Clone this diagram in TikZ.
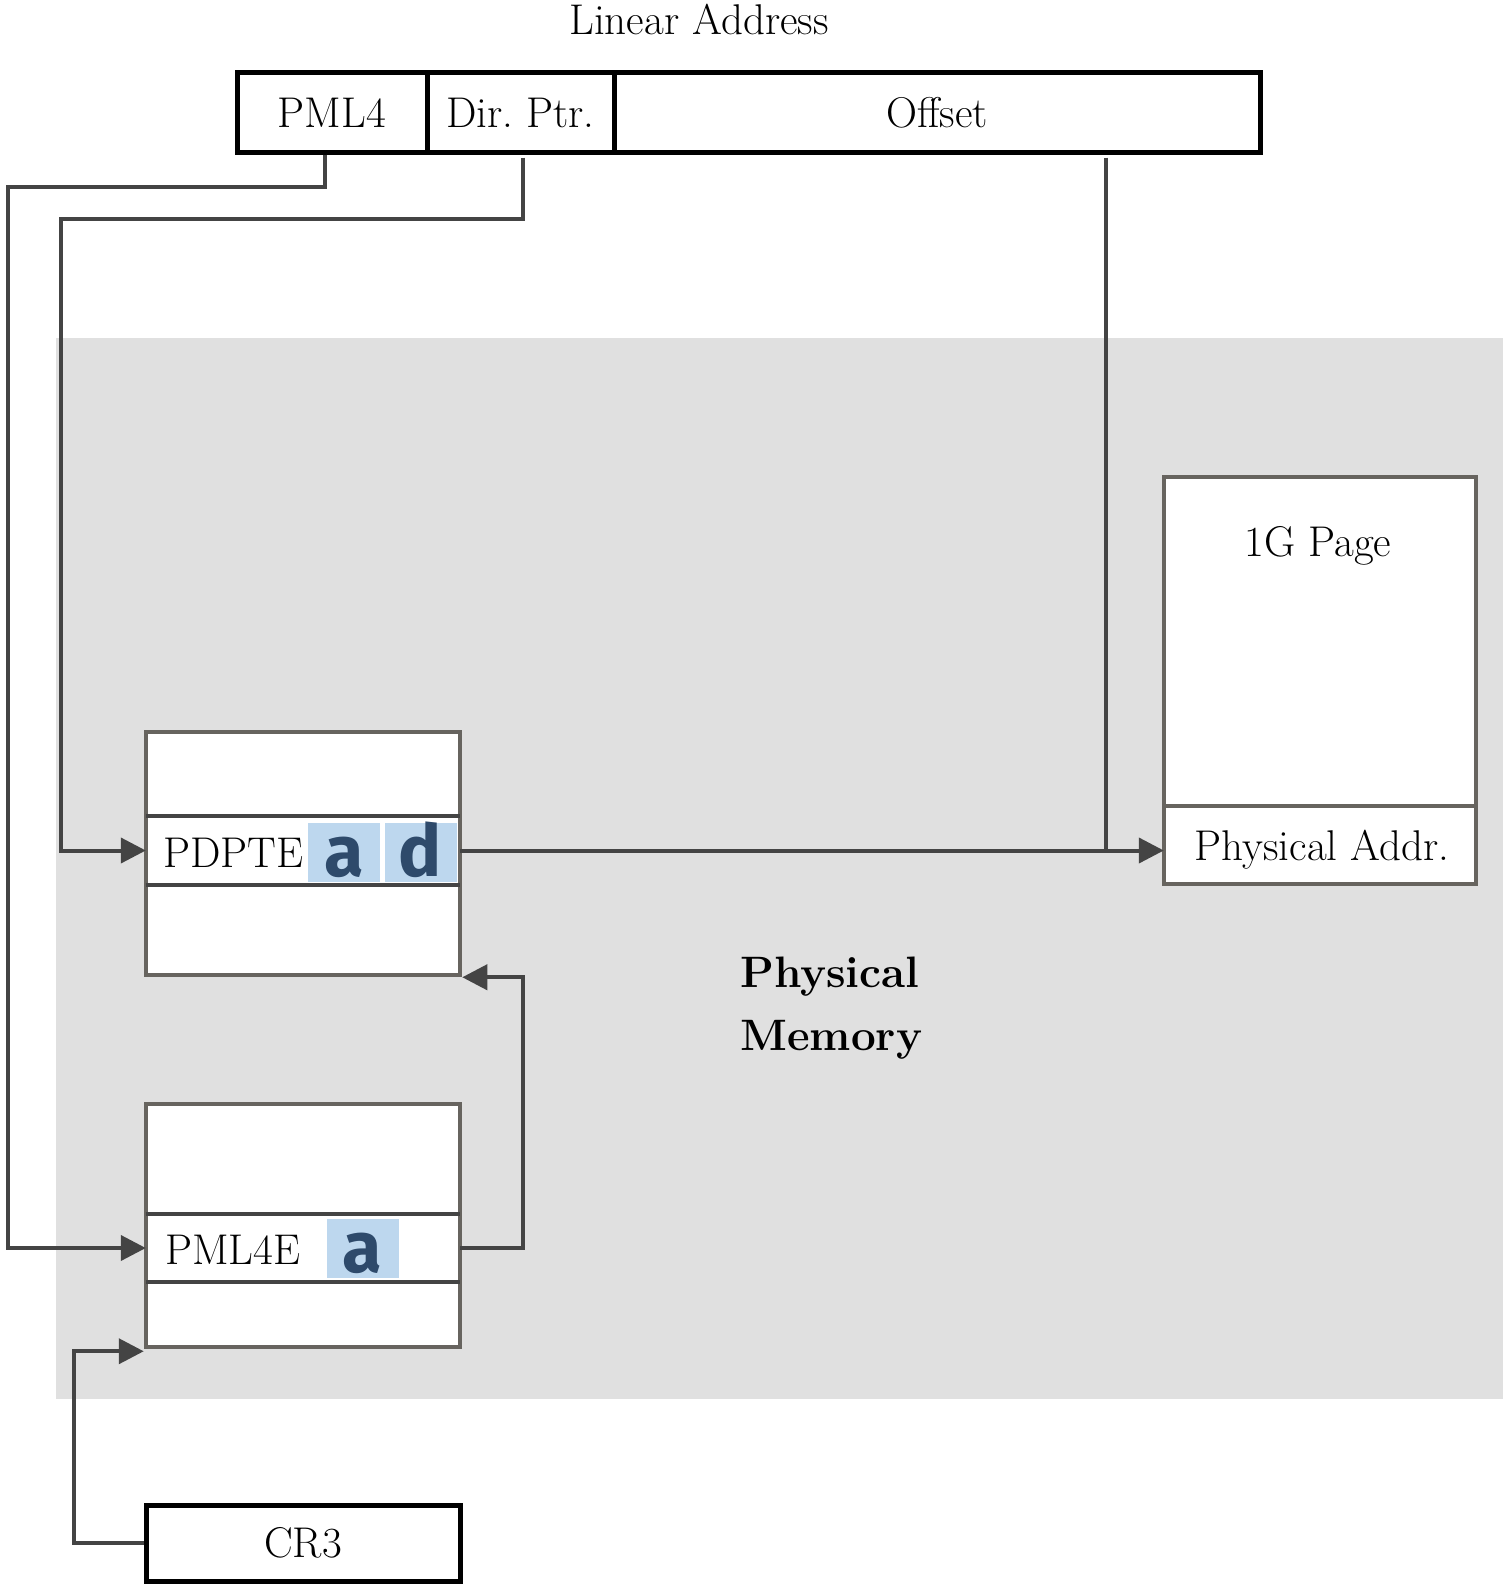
\documentclass[tikz,border=0pt]{standalone}
\usepackage{fontspec}
\newfontfamily\badgefont{Fira Sans}
\usetikzlibrary{arrows.meta}
\definecolor{memgray}{HTML}{E0E0E0}
\definecolor{tblgray}{HTML}{67645F}
\definecolor{conngray}{HTML}{444444}
\definecolor{badgefill}{HTML}{BDD7EE}
\definecolor{badgetext}{HTML}{2E4A6B}
\begin{document}
\begin{tikzpicture}[x=1pt,y=-1pt,
  lbl/.style={font=\fontsize{43}{50}\selectfont, inner sep=0pt},
  field/.style={draw=black, line width=5pt, fill=white, inner sep=0pt, font=\fontsize{43}{50}\selectfont},
  tablebox/.style={draw=tblgray, line width=4.5pt, fill=white, inner sep=0pt},
  rowbox/.style={inner sep=0pt, minimum width=314pt},
  rowline/.style={draw=conngray, line width=4pt},
  conn/.style={draw=conngray, line width=4pt},
  arr/.style={conn, -{Triangle[length=25pt,width=25pt]}},
  badge/.style={fill=badgefill, text=badgetext, font=\badgefont\bfseries\fontsize{72}{74}\selectfont,
    minimum width=72pt, minimum height=59pt, inner sep=0pt, text height=47pt, text depth=0pt}
]
\useasboundingbox (0,0) rectangle (1503,1584);

% physical memory background
\node[fill=memgray, minimum width=1447pt, minimum height=1061pt, inner sep=0pt, anchor=north west] (mem) at (56,338) {};

% linear address
\node[lbl, anchor=base] (title) at (699,35) {Linear Address};
\node[field, minimum width=190pt, minimum height=79pt] (pml4) at (332,112.5) {PML4};
\node[field, minimum width=187pt, minimum height=79pt] (dptr) at (520.5,112.5) {Dir.\ Ptr.};
\node[field, minimum width=646pt, minimum height=79pt] (off) at (937,112.5) {Offset};

% PDPT table
\node[tablebox, minimum width=314pt, minimum height=243pt] (pdpt) at (303,853.5) {};
\node[rowbox, minimum height=69pt] (pdpterow) at (303,850.5) {};
\draw[rowline] (pdpterow.north west) -- (pdpterow.north east);
\draw[rowline] (pdpterow.south west) -- (pdpterow.south east);
\node[lbl, anchor=base west] (pdptel) at (163,867) {PDPTE};
\node[badge] (pa) at (344,852.5) {a};
\node[badge] (pd) at (420.5,852.5) {d};

% PML4 table
\node[tablebox, minimum width=314pt, minimum height=243pt] (pml4t) at (303,1225.5) {};
\node[rowbox, minimum height=68pt] (pml4erow) at (303,1248) {};
\draw[rowline] (pml4erow.north west) -- (pml4erow.north east);
\draw[rowline] (pml4erow.south west) -- (pml4erow.south east);
\node[lbl, anchor=base west] (pml4el) at (165,1264) {PML4E};
\node[badge] (pa2) at (362.5,1248.5) {a};

% 1G page
\node[tablebox, minimum width=312pt, minimum height=407pt] (page) at (1320,680.5) {};
\node[lbl, anchor=base] (pagel) at (1318,556) {1G Page};
\node[inner sep=0pt, minimum width=312pt, minimum height=78pt] (paddr) at (1320,845) {};
\draw[draw=tblgray, line width=4.5pt] (paddr.north west) -- (paddr.north east);
\node[lbl, anchor=base] (paddrl) at (1322,860) {Physical Addr.};

% CR3
\node[field, minimum width=314pt, minimum height=76pt] (cr3) at (303,1543) {CR3};

% Physical Memory label
\node[inner sep=0pt, align=left, anchor=north west, font=\bfseries\fontsize{44}{63}\selectfont] (pm) at (740,957) {Physical\\Memory};

% connectors
\draw[arr] ([xshift=-7pt]pml4.south) |- (8,187) |- (pml4erow.west);
\draw[arr] ([xshift=2.5pt,yshift=-3pt]dptr.south) |- (61,219) |- (pdpterow.west);
\coordinate (offd) at ([xshift=169pt,yshift=-3pt]off.south);
\draw[conn] (offd) -- (offd |- pdpterow.east);
\draw[arr] (pdpterow.east) -- (pdpterow.east -| paddr.west);
\draw[arr] (pml4erow.east) -- ++(63pt,0) |- (pdpt.south east);
\draw[arr] (cr3.west) -- ++(-70pt,0) |- ([yshift=-2pt]pml4t.south west);
\end{tikzpicture}
\end{document}
